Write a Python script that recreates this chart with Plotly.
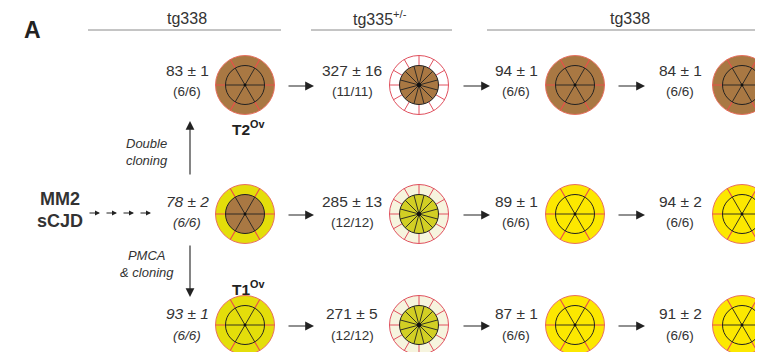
import math
import plotly.graph_objects as go

# ---------------- data ----------------
HOSTS = ["tg338", "tg335<sup>+/-</sup>", "tg338"]
INCUBATION_MEAN = [[83, 327, 94, 84],
                   [78, 285, 89, 94],
                   [93, 271, 87, 91]]
INCUBATION_SEM = [[1, 16, 1, 1],
                  [2, 13, 1, 2],
                  [1, 5, 1, 2]]
N_AFFECTED = [[6, 11, 6, 6],
              [6, 12, 6, 6],
              [6, 12, 6, 6]]
N_INOCULATED = [[6, 11, 6, 6],
                [6, 12, 6, 6],
                [6, 12, 6, 6]]
# lesion profile / strain phenotype of each passage
PROFILE = [["T2", "T2_het", "T2", "T2"],
           ["MIX", "T1_het", "T1", "T1"],
           ["T1_ov", "T1_het", "T1", "T1"]]
ITALIC_ROWS_FIRST_COL = [False, True, True]
CLONE_LABELS = ["T2<sup>Ov</sup>", "T1<sup>Ov</sup>"]
STEP_LABELS = ["Double<br>cloning", "PMCA<br>& cloning"]
SOURCE_LABEL = ["MM2", "sCJD"]

# ---------------- styles / layout ----------------
BROWN = "#A97843"
YELLOW = "#FCE800"
YELLOW_DARK = "#E4DE0A"
OLIVE = "#D2CF24"
CREAM = "#F6F4DE"
RED = "#E0505E"
TXT = "#333333"
STYLE = {
    "T2": dict(kind="A", outer=BROWN, inner=BROWN),
    "MIX": dict(kind="A", outer=YELLOW_DARK, inner=BROWN),
    "T1_ov": dict(kind="A", outer=YELLOW_DARK, inner=YELLOW_DARK),
    "T1": dict(kind="A", outer=YELLOW, inner=YELLOW),
    "T2_het": dict(kind="B", outer="white", inner=BROWN),
    "T1_het": dict(kind="B", outer=CREAM, inner=OLIVE),
}
COL_X = [245, 419, 575, 742]
TEXT_X = [187, 352, 516, 680]
ROW_Y = [85, 214, 325]
LINE1_Y = [70, 201, 313]
LINE2_Y = [91, 222, 335]
R = 29.5
RIN = 19.5
FONT = "Liberation Sans, Arial, sans-serif"
PAGE_OFFSET = 8  # default body margin of the html page

shapes = []
annotations = []


def circle(cx, cy, r, fill, color, width):
    shapes.append(dict(type="circle", xref="x", yref="y", x0=cx - r, x1=cx + r,
                       y0=cy - r, y1=cy + r, fillcolor=fill,
                       line=dict(color=color, width=width), layer="above"))


def radial(cx, cy, r0, r1, n, offset, color, width):
    parts = []
    for k in range(n):
        a = math.radians(offset + 360.0 * k / n)
        parts.append("M{:.2f},{:.2f}L{:.2f},{:.2f}".format(
            cx + r0 * math.cos(a), cy + r0 * math.sin(a),
            cx + r1 * math.cos(a), cy + r1 * math.sin(a)))
    shapes.append(dict(type="path", xref="x", yref="y", path="".join(parts),
                       line=dict(color=color, width=width), layer="above"))


def lesion(cx, cy, prof):
    st = STYLE[prof]
    if st["kind"] == "A":
        circle(cx, cy, R, st["outer"], "#E87060", 1)
        radial(cx, cy, RIN, R, 6, 0, "#E8504A", 1.1)
        circle(cx, cy, RIN, st["inner"], "#222", 1)
        radial(cx, cy, 0, RIN, 6, 0, "#222", 0.9)
        circle(cx, cy, 1.2, "#111", "#111", 0.5)
    else:
        circle(cx, cy, R, st["outer"], RED, 1)
        radial(cx, cy, RIN, R, 12, 0, RED, 1)
        circle(cx, cy, RIN, st["inner"], "#222", 1)
        radial(cx, cy, 0, RIN, 12, 15, "#222", 0.9)
        circle(cx, cy, 2, "#111", "#111", 0.5)


def text(x, y, s, size, color=TXT, anchor="center"):
    annotations.append(dict(x=x, y=y, xref="x", yref="y", text=s, showarrow=False,
                            xanchor=anchor, yanchor="middle",
                            font=dict(family=FONT, size=size, color=color)))


def arrow(x0, y0, x1, y1, size=1.6, width=1.1):
    annotations.append(dict(x=x1, y=y1, ax=x0, ay=y0, xref="x", yref="y",
                            axref="x", ayref="y", text="", showarrow=True,
                            arrowhead=2, arrowsize=size, arrowwidth=width,
                            arrowcolor="#222", standoff=0, startstandoff=0))


# panel letter
text(32, 30, "<b>A</b>", 23, "#222")

# host headers
HEADER_SEG = [(88, 281), (311, 452), (487, 763)]
HEADER_TX = [187, 380, 630]
for (a, b), tx, host in zip(HEADER_SEG, HEADER_TX, HOSTS):
    shapes.append(dict(type="line", xref="x", yref="y", x0=a, x1=b, y0=30, y1=30,
                       line=dict(color="#8a8a8a", width=1)))
    text(tx, 18, host, 16)

# grid of passages
for r in range(3):
    for c in range(4):
        lesion(COL_X[c], ROW_Y[r], PROFILE[r][c])
        l1 = "{} ± {}".format(INCUBATION_MEAN[r][c], INCUBATION_SEM[r][c])
        l2 = "({}/{})".format(N_AFFECTED[r][c], N_INOCULATED[r][c])
        if c == 0 and ITALIC_ROWS_FIRST_COL[r]:
            l1, l2 = "<i>" + l1 + "</i>", "<i>" + l2 + "</i>"
        text(TEXT_X[c], LINE1_Y[r], l1, 15.5)
        text(TEXT_X[c], LINE2_Y[r], l2, 13.5)
    for (a, b) in [(287, 314), (462, 490), (617, 645)]:
        arrow(a, ROW_Y[r] + 1, b, ROW_Y[r] + 1)

# source
text(60, 199, "<b>" + SOURCE_LABEL[0] + "</b>", 18)
text(60, 221, "<b>" + SOURCE_LABEL[1] + "</b>", 18)
for k in range(4):
    x0 = 88 + 17 * k
    arrow(x0, 213, x0 + 12, 213, size=1.0, width=1.0)

# cloning steps
arrow(190, 176, 190, 121)
arrow(190, 244, 190, 297)
text(147, 152, "<i>" + STEP_LABELS[0] + "</i>", 13)
text(118, 264, "<i>" + STEP_LABELS[1] + "</i>", 13, anchor="left")
text(248, 128, "<b>" + CLONE_LABELS[0] + "</b>", 15.5, "#222")
text(248, 288, "<b>" + CLONE_LABELS[1] + "</b>", 15.5, "#222")

fig = go.Figure()
fig.update_layout(
    width=763, height=352, margin=dict(l=0, r=0, t=0, b=0),
    paper_bgcolor="white", plot_bgcolor="white",
    xaxis=dict(range=[PAGE_OFFSET, 763 + PAGE_OFFSET], visible=False, fixedrange=True),
    yaxis=dict(range=[352 + PAGE_OFFSET, PAGE_OFFSET], visible=False, fixedrange=True),
    shapes=shapes, annotations=annotations, showlegend=False,
)
fig.write_html("out.html")
